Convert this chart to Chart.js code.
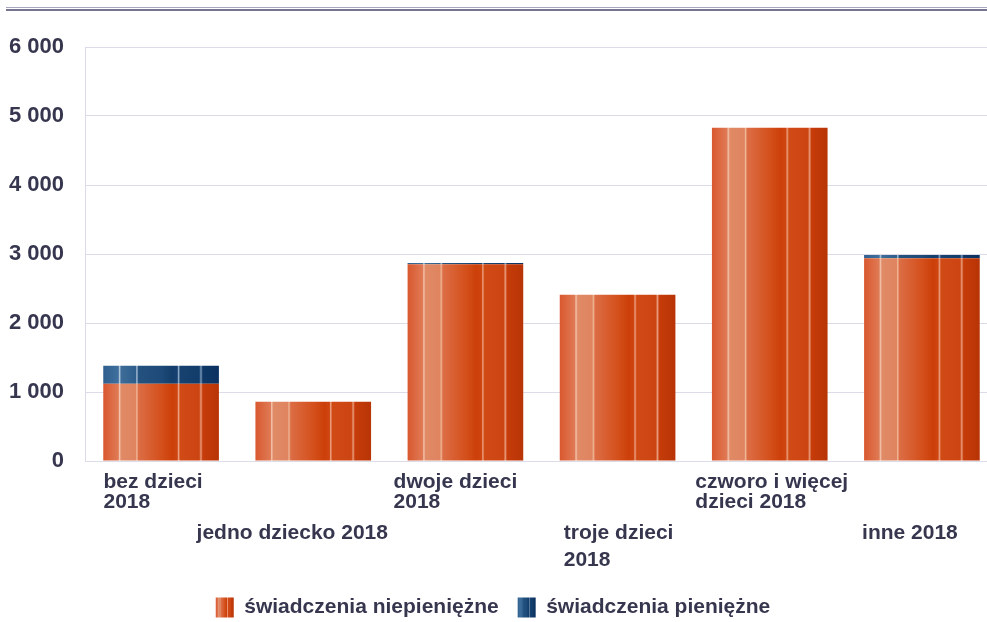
<!DOCTYPE html>
<html><head><meta charset="utf-8">
<script src="https://cdn.jsdelivr.net/npm/chart.js@4"></script>
<style>
html,body{margin:0;padding:0;background:#fff;overflow:hidden;width:987px;height:622px}
#wrap{position:absolute;left:0;top:0;width:1000px;height:622px}
.rule1{position:absolute;left:6px;width:1000px;top:7px;border-top:1px solid #a6a6be}
.rule2{position:absolute;left:6px;width:1000px;top:9px;border-top:2px solid #75758f}
</style></head>
<body>
<div id="wrap"><canvas id="c" width="1000" height="622"></canvas></div>
<div class="rule1"></div><div class="rule2"></div>
<script>
// ---- data ----
const categories = [
  ['bez dzieci', '2018'],
  ['jedno dziecko 2018'],
  ['dwoje dzieci', '2018'],
  ['troje dzieci', '2018'],
  ['czworo i więcej', 'dzieci 2018'],
  ['inne 2018']
];
const nonCash = [1120, 860, 2850, 2410, 4830, 2940];
const cash = [260, 0, 20, 0, 0, 45];
const seriesNames = ['świadczenia niepieniężne', 'świadczenia pieniężne'];
const yMin = 0, yMax = 6000, yStep = 1000;

// ---- styles ----
const FONT = "'Liberation Sans', Arial, sans-serif";
const TEXT = '#36364f';
const GRID = '#dcdce8';
const BAR_PCT = 0.76;
const ORANGE = [[0,'#d9582f'],[0.13,'#df7a55'],[0.14,'#f3c4ad'],[0.155,'#e08a66'],[0.28,'#df845f'],[0.29,'#f0b898'],[0.305,'#dc6d45'],[0.5,'#d4501c'],[0.6,'#cc3f08'],[0.64,'#cf4612'],[0.65,'#eda283'],[0.665,'#d04a16'],[0.83,'#cc4412'],[0.845,'#e89a7a'],[0.86,'#c63c0a'],[1,'#b83406']];
const BLUE = [[0,'#2f5f8e'],[0.13,'#3f6f9c'],[0.14,'#b0c8dc'],[0.155,'#3d6c98'],[0.28,'#2e5e8c'],[0.29,'#a8c0d8'],[0.305,'#24527f'],[0.5,'#1d4a78'],[0.6,'#133e6c'],[0.64,'#154070'],[0.65,'#90aac8'],[0.665,'#174270'],[0.83,'#123c6a'],[0.845,'#7a98b8'],[0.86,'#0f3866'],[1,'#0b3160']];
const SERIES_STOPS = [ORANGE, BLUE];
const legendColors = ['#d65a2e', '#24527f'];
// x-label layout: two staggered rows (even / odd categories)
const LABEL_FONT = "bold 21px " + FONT;
const ROW_Y = [21, 72];       // first-line centre below the plot bottom
const ROW_STEP = [20.5, 27];  // line spacing per row
const LABEL_NUDGE = [-8, -21, -10, 1, 2, -12];
const LEGEND_SHIFT = { x: -6, y: 6 };
const LEGEND_BOX = 18;

function makeGradient(ctx, x0, w, stops) {
  const g = ctx.createLinearGradient(x0, 0, x0 + w, 0);
  stops.forEach(s => g.addColorStop(s[0], s[1]));
  return g;
}
function barGradient(stops, fallback) {
  return function (ctx) {
    const chart = ctx.chart, xs = chart.scales && chart.scales.x;
    if (!chart.chartArea || !xs || ctx.dataIndex == null) return fallback;
    const bw = xs.width / categories.length * BAR_PCT;
    const cx = xs.getPixelForValue(ctx.dataIndex);
    return makeGradient(chart.ctx, cx - bw / 2, bw, stops);
  };
}
const fmt = v => String(v).replace(/\B(?=(\d{3})+(?!\d))/g, ' ');

const staggeredLabels = {
  id: 'staggeredLabels',
  afterDraw(chart) {
    const xs = chart.scales.x, ctx = chart.ctx, bottom = chart.chartArea.bottom;
    ctx.save();
    ctx.font = LABEL_FONT;
    ctx.fillStyle = TEXT;
    ctx.textAlign = 'left';
    ctx.textBaseline = 'middle';
    categories.forEach((lines, i) => {
      const cx = xs.getPixelForValue(i);
      const w = Math.max(...lines.map(l => ctx.measureText(l).width));
      const x = cx - w / 2 + LABEL_NUDGE[i];
      const r = i % 2;
      lines.forEach((l, k) => ctx.fillText(l, x, bottom + ROW_Y[r] + k * ROW_STEP[r]));
    });
    ctx.restore();
  }
};
const legendShift = {
  id: 'legendShift',
  afterLayout(chart) {
    const lg = chart.legend;
    lg.left += LEGEND_SHIFT.x; lg.right += LEGEND_SHIFT.x;
    lg.top += LEGEND_SHIFT.y; lg.bottom += LEGEND_SHIFT.y;
  },
  afterUpdate(chart) {
    const lg = chart.legend;
    (lg.legendItems || []).forEach((it, i) => {
      const hb = lg.legendHitBoxes && lg.legendHitBoxes[i];
      if (!hb) return;
      it.fillStyle = makeGradient(chart.ctx, hb.left, LEGEND_BOX, SERIES_STOPS[i]);
    });
  }
};

new Chart(document.getElementById('c'), {
  type: 'bar',
  data: {
    labels: categories.map(c => c.join(' ')),
    datasets: [
      { label: seriesNames[0], data: nonCash, backgroundColor: barGradient(ORANGE, legendColors[0]), borderWidth: 0 },
      { label: seriesNames[1], data: cash, backgroundColor: barGradient(BLUE, legendColors[1]), borderWidth: 0 }
    ]
  },
  plugins: [staggeredLabels, legendShift],
  options: {
    responsive: false,
    animation: false,
    devicePixelRatio: 1,
    barPercentage: BAR_PCT,
    categoryPercentage: 1,
    layout: { padding: { top: 47, left: 0, right: 2, bottom: 0 } },
    plugins: {
      tooltip: { enabled: false },
      legend: {
        position: 'bottom',
        labels: {
          boxWidth: LEGEND_BOX, boxHeight: 20, padding: 19,
          color: TEXT,
          font: { family: FONT, size: 21, weight: 'bold' },
          generateLabels(chart) {
            const items = Chart.defaults.plugins.legend.labels.generateLabels(chart);
            items.forEach((it, i) => { it.fillStyle = legendColors[i]; it.strokeStyle = 'rgba(0,0,0,0)'; it.lineWidth = 0; });
            return items;
          }
        }
      }
    },
    scales: {
      x: {
        stacked: true,
        grid: { display: false, drawTicks: false },
        border: { display: false },
        ticks: { display: false },
        afterFit(s) { s.height = s.chart.height - 461 - (s.chart.legend ? s.chart.legend.height : 40); }
      },
      y: {
        stacked: true,
        min: yMin, max: yMax,
        ticks: {
          stepSize: yStep, padding: 21, color: TEXT,
          font: { family: FONT, size: 22, weight: 'bold' },
          callback: v => fmt(v)
        },
        grid: { color: GRID, drawTicks: false, lineWidth: 1 },
        border: { display: true, color: GRID },
        afterFit(s) { s.width = 85; }
      }
    }
  }
});
</script>
</body></html>
